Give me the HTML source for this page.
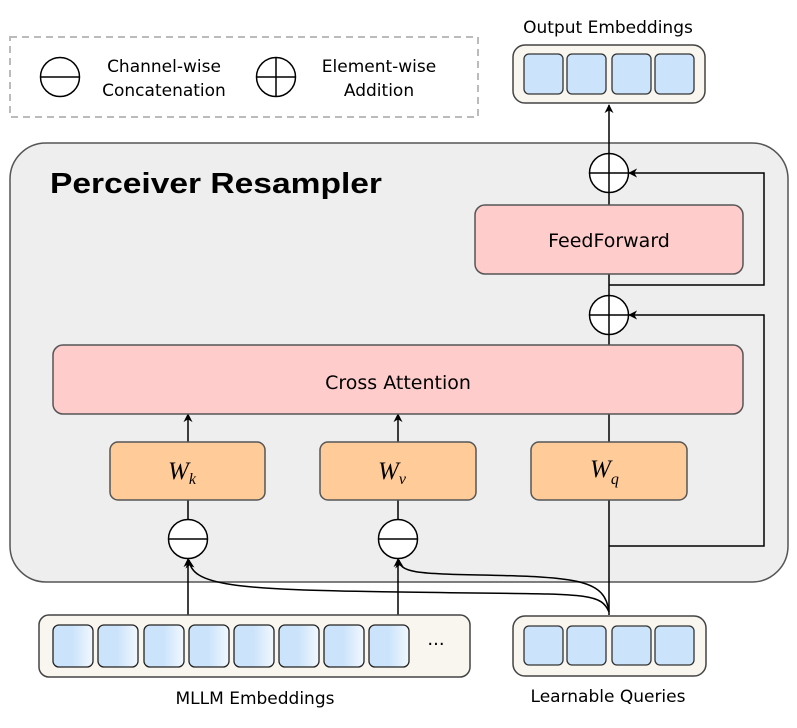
<!DOCTYPE html>
<html><head><meta charset="utf-8"><style>
html,body{margin:0;padding:0;background:#fff;}
svg{display:block;}
text{font-family:"DejaVu Sans","Liberation Sans",sans-serif;fill:#000;}
text.w{font-family:"Liberation Serif",serif;font-style:italic;}
text.t{font-family:"Liberation Sans",sans-serif;font-weight:bold;}
</style></head><body>
<svg width="797" height="728" viewBox="0 0 797 728" xmlns="http://www.w3.org/2000/svg">
<defs>
<marker id="ar" viewBox="0 0 10 10" refX="9" refY="5" markerWidth="9" markerHeight="9" orient="auto" markerUnits="userSpaceOnUse">
<path d="M0,0 L10,5 L0,10 L3,5 Z" fill="#000"/></marker>
<linearGradient id="cg" x1="0" x2="1" y1="0" y2="0">
<stop offset="0" stop-color="#cce4fb"/><stop offset="0.5" stop-color="#cce4fb"/><stop offset="1" stop-color="#f2f8fe"/></linearGradient>
</defs>
<rect x="10" y="37" width="468" height="80" fill="none" stroke="#bbb" stroke-width="2" stroke-dasharray="7,5"/>
<circle cx="60" cy="77" r="19.5" fill="#fff" stroke="#000" stroke-width="1.5"/>
<line x1="40.5" y1="77" x2="79.5" y2="77" stroke="#000" stroke-width="1.5"/>
<text x="164" y="72" font-size="17" text-anchor="middle">Channel-wise</text>
<text x="164" y="96" font-size="17" text-anchor="middle">Concatenation</text>
<circle cx="276" cy="77" r="19.5" fill="#fff" stroke="#000" stroke-width="1.5"/>
<line x1="256.5" y1="77" x2="295.5" y2="77" stroke="#000" stroke-width="1.5"/>
<line x1="276" y1="57.5" x2="276" y2="96.5" stroke="#000" stroke-width="1.5"/>
<text x="379" y="72" font-size="17" text-anchor="middle">Element-wise</text>
<text x="379" y="96" font-size="17" text-anchor="middle">Addition</text>
<text x="608" y="33" font-size="17" text-anchor="middle">Output Embeddings</text>
<rect x="513" y="45" width="192" height="58" rx="12" fill="#f8f6ee" stroke="#444" stroke-width="1.5"/>
<g fill="#cce4fb" stroke="#333" stroke-width="1.3">
<rect x="524" y="54" width="39" height="40" rx="5"/><rect x="567" y="54" width="39" height="40" rx="5"/>
<rect x="612" y="54" width="39" height="40" rx="5"/><rect x="655" y="54" width="39" height="40" rx="5"/></g>
<rect x="10" y="143" width="778" height="439" rx="36" fill="#eeeeee" stroke="#555" stroke-width="1.5"/>
<text class="t" x="50" y="193" font-size="29" textLength="332" lengthAdjust="spacingAndGlyphs">Perceiver Resampler</text>
<g stroke="#000" stroke-width="1.5" fill="none">
<line x1="609" y1="153" x2="609" y2="105" marker-end="url(#ar)"/>
<line x1="609" y1="615" x2="609" y2="335"/>
<line x1="609" y1="295" x2="609" y2="192"/>
<polyline points="609,546 764,546 764,315 629,315" marker-end="url(#ar)"/>
<polyline points="609,285 764,285 764,173 629,173" marker-end="url(#ar)"/>
<line x1="188" y1="442" x2="188" y2="414" marker-end="url(#ar)"/>
<line x1="398" y1="442" x2="398" y2="414" marker-end="url(#ar)"/>
<line x1="188" y1="500" x2="188" y2="520"/>
<line x1="398" y1="500" x2="398" y2="520"/>
<line x1="188" y1="615" x2="188" y2="559" marker-end="url(#ar)"/>
<line x1="398" y1="615" x2="398" y2="559" marker-end="url(#ar)"/>
<path d="M609,612 C600,590 580,595 400,592 C230,590 192,585 189,560" marker-end="url(#ar)"/>
<path d="M609,612 C605,580 580,577 480,575 C415,574 400,572 399,560" marker-end="url(#ar)"/>
</g>
<circle cx="609" cy="173" r="19.5" fill="#fff" stroke="#000" stroke-width="1.5"/>
<path d="M589.5,173 H628.5 M609,153.5 V192.5" stroke="#000" stroke-width="1.5"/>
<circle cx="609" cy="315" r="19.5" fill="#fff" stroke="#000" stroke-width="1.5"/>
<path d="M589.5,315 H628.5 M609,295.5 V334.5" stroke="#000" stroke-width="1.5"/>
<rect x="475" y="205" width="268" height="69" rx="10" fill="#ffcccc" stroke="#555" stroke-width="1.5"/>
<text x="609" y="247" font-size="19" text-anchor="middle">FeedForward</text>
<rect x="53" y="345" width="690" height="69" rx="10" fill="#ffcccc" stroke="#555" stroke-width="1.5"/>
<text x="398" y="389" font-size="19" text-anchor="middle">Cross Attention</text>
<g fill="#ffcc99" stroke="#555" stroke-width="1.5">
<rect x="110" y="442" width="155" height="58" rx="8"/>
<rect x="320" y="442" width="156" height="58" rx="8"/>
<rect x="531" y="442" width="156" height="58" rx="8"/></g>
<text class="w" x="168" y="479" font-size="25">W<tspan font-size="16" dy="5">k</tspan></text>
<text class="w" x="378" y="479" font-size="25">W<tspan font-size="16" dy="5">v</tspan></text>
<text class="w" x="590" y="477" font-size="25">W<tspan font-size="16" dy="7">q</tspan></text>
<circle cx="188" cy="539" r="19.5" fill="#fff" stroke="#000" stroke-width="1.5"/>
<line x1="168.5" y1="539" x2="207.5" y2="539" stroke="#000" stroke-width="1.5"/>
<circle cx="398" cy="539" r="19.5" fill="#fff" stroke="#000" stroke-width="1.5"/>
<line x1="378.5" y1="539" x2="417.5" y2="539" stroke="#000" stroke-width="1.5"/>
<rect x="39" y="615" width="431" height="62" rx="10" fill="#f8f6ee" stroke="#444" stroke-width="1.5"/>
<g fill="url(#cg)" stroke="#222" stroke-width="1.3">
<rect x="53" y="625" width="40" height="42" rx="6"/><rect x="98" y="625" width="40" height="42" rx="6"/>
<rect x="144" y="625" width="40" height="42" rx="6"/><rect x="189" y="625" width="40" height="42" rx="6"/>
<rect x="234" y="625" width="40" height="42" rx="6"/><rect x="279" y="625" width="40" height="42" rx="6"/>
<rect x="324" y="625" width="40" height="42" rx="6"/><rect x="369" y="625" width="40" height="42" rx="6"/></g>
<text x="436" y="650" font-size="18" text-anchor="middle">···</text>
<text x="255" y="704" font-size="17" text-anchor="middle">MLLM Embeddings</text>
<rect x="513" y="616" width="193" height="60" rx="12" fill="#f8f6ee" stroke="#444" stroke-width="1.5"/>
<g fill="#cce4fb" stroke="#333" stroke-width="1.3">
<rect x="524" y="626" width="39" height="39" rx="5"/><rect x="567" y="626" width="39" height="39" rx="5"/>
<rect x="612" y="626" width="39" height="39" rx="5"/><rect x="655" y="626" width="39" height="39" rx="5"/></g>
<text x="608" y="702" font-size="17" text-anchor="middle">Learnable Queries</text>
</svg>
</body></html>
